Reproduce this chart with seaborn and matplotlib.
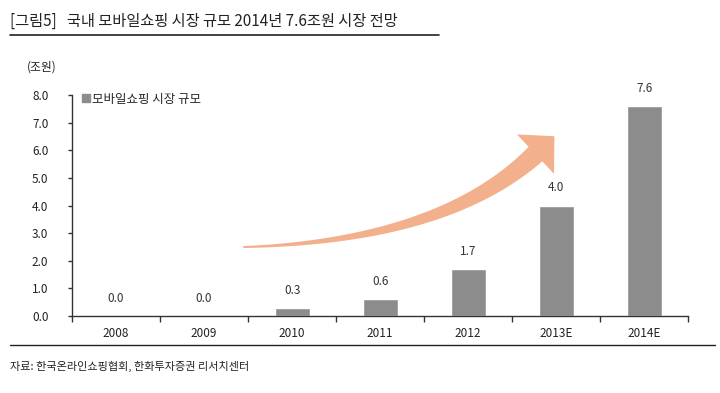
"""Mobile shopping market size in Korea, 2008-2014E."""

import matplotlib

matplotlib.use("Agg")

import matplotlib.pyplot as plt
import numpy as np
import pandas as pd
import seaborn as sns
from matplotlib.lines import Line2D
from matplotlib.patches import Polygon
from matplotlib.transforms import IdentityTransform

years = ["2008", "2009", "2010", "2011", "2012", "2013E", "2014E"]
market_size = [0.0, 0.0, 0.3, 0.6, 1.7, 4.0, 7.6]
y_ticks = [0.0, 1.0, 2.0, 3.0, 4.0, 5.0, 6.0, 7.0, 8.0]

title = "[그림5]   국내 모바일쇼핑 시장 규모 2014년 7.6조원 시장 전망"
series_name = "모바일쇼핑 시장 규모"
unit = "(조원)"
source = "자료: 한국온라인쇼핑협회, 한화투자증권 리서치센터"

sns.set_theme(style="white")
plt.rcParams["font.family"] = ["Noto Sans CJK KR", "DejaVu Sans"]

frame = pd.DataFrame({"year": years, "size": market_size})

fig = plt.figure(figsize=(7.2, 3.93), dpi=100)
ax = fig.add_axes([0.1, 0.196, 0.856, 0.562])

bar_color = "#8c8c8c"
sns.barplot(data=frame, x="year", y="size", color=bar_color, width=0.4,
            saturation=1, ax=ax)

for idx, val in enumerate(market_size):
    ax.text(idx, val + 0.4, f"{val:.1f}", ha="center", va="bottom",
            fontsize=8.5, color="#333333")

ax.set_ylim(0, 8.0)
ax.set_yticks(y_ticks)
ax.set_yticklabels([f"{t:.1f}" for t in y_ticks], fontsize=8.5, color="#222222")
ax.set_xlim(-0.5, len(years) - 0.5)
ax.set_xlabel("")
ax.set_ylabel("")
ax.tick_params(axis="x", labelsize=8.5, colors="#222222", length=0, pad=8)
ax.set_xticks([i - 0.5 for i in range(len(years) + 1)], minor=True)
ax.tick_params(axis="x", which="minor", length=4, width=1, color="#333333",
               direction="out", bottom=True)
ax.tick_params(axis="y", length=3, width=1, color="#333333", direction="out",
               left=True, pad=14)

for side in ["top", "right"]:
    ax.spines[side].set_visible(False)
for side in ["left", "bottom"]:
    ax.spines[side].set_color("#333333")
    ax.spines[side].set_linewidth(1.0)


def tapered_arrow(axis, start, ctrl, end, max_width=20, head_width=54,
                  head_length=26, color="#f3b08d"):
    """Draw a curved arrow whose shaft widens from tail to head."""
    pts = axis.transAxes.transform([start, ctrl, end])
    p0, c, p2 = pts
    t = np.linspace(0, 1, 80)[:, None]
    curve = (1 - t) ** 2 * p0 + 2 * (1 - t) * t * c + t ** 2 * p2
    deriv = 2 * (1 - t) * (c - p0) + 2 * t * (p2 - c)
    tangent = deriv / np.linalg.norm(deriv, axis=1, keepdims=True)
    normal = np.column_stack([-tangent[:, 1], tangent[:, 0]])
    half = (1.0 + (max_width / 2 - 1.0) * t[:, 0] ** 1.2)[:, None]
    upper = curve + normal * half
    lower = curve - normal * half
    tip_dir = tangent[-1]
    tip_norm = normal[-1]
    tip = p2 + tip_dir * head_length
    barb_a = p2 + tip_norm * head_width / 2
    barb_b = p2 - tip_norm * head_width / 2
    outline = np.vstack([upper, [barb_a, tip, barb_b], lower[::-1]])
    axis.add_patch(Polygon(outline, closed=True, facecolor=color,
                           edgecolor="none", transform=IdentityTransform(),
                           zorder=1))


tapered_arrow(ax, (0.278, 0.312), (0.602, 0.339), (0.752, 0.733))

# legend
handle = Line2D([], [], marker="s", color=bar_color, linestyle="none",
                markersize=6)
ax.legend([handle], [series_name], loc="upper left", bbox_to_anchor=(0.0, 1.05),
          frameon=False, fontsize=9, handletextpad=0.1, borderaxespad=0.3,
          handlelength=0.8)

fig.text(0.038, 0.829, unit, fontsize=8.5, color="#222222", va="center")
fig.text(0.014, 0.945, title, fontsize=11, color="#222222", va="center")
fig.add_artist(Line2D([0.014, 0.61], [0.912, 0.912], color="#222222", lw=1.2))
fig.add_artist(Line2D([0.014, 0.993], [0.122, 0.122], color="#222222", lw=1.0))
fig.text(0.014, 0.068, source, fontsize=8, color="#222222", va="center")

fig.savefig("out.png", dpi=100)
plt.close(fig)
